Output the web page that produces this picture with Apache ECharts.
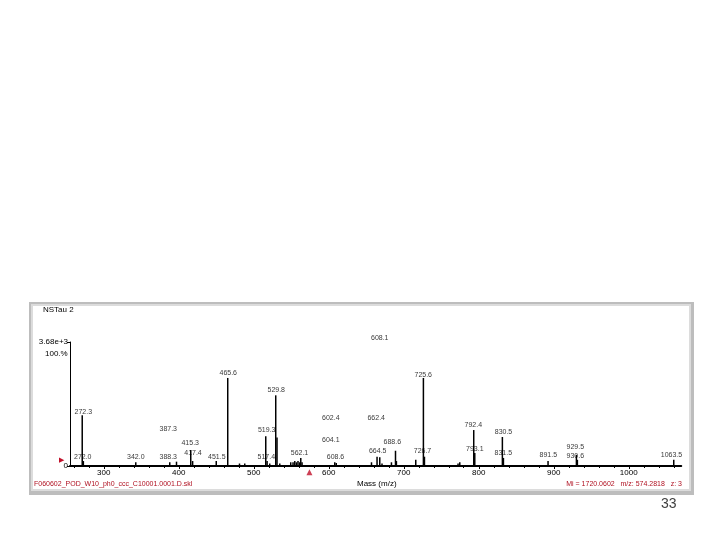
<!DOCTYPE html>
<html>
<head>
<meta charset="utf-8">
<script src="https://cdn.jsdelivr.net/npm/echarts@6/dist/echarts.min.js"></script>
<style>html,body{margin:0;padding:0;background:#fff;}#c{width:720px;height:540px;}</style>
</head>
<body>
<div id="c"></div>
<script>
// visible peak lines (m/z, relative intensity %)
const peakMz  = [271.3, 272.8, 342.7, 388, 397, 416, 418.5, 450, 465.3, 481, 488, 516, 517.8, 521.3, 529.3, 531, 534.7, 549.3, 552.4, 554.7, 556.9, 559, 561.3, 562.7, 564.4, 608, 610, 657, 664.4, 668, 671, 683.6, 689, 690.2, 716, 726.2, 727.6, 772.4, 774.7, 793.3, 794.7, 831.5, 832.9, 892.4, 930.2, 931.5, 1060];
const peakInt = [41, 4, 3, 3, 3.5, 13, 4, 4, 71, 2, 2, 24, 4, 2, 57, 23, 2, 3, 3, 4, 3, 4, 3, 6.5, 3, 3, 2.5, 3, 7.5, 7, 2, 3, 12.3, 4, 5, 71, 7.5, 2, 3, 29, 10.5, 23.4, 6.5, 4, 9, 5, 5];

// peak annotations (text, m/z position, intensity position of label centre)
const annText = ['272.3','272.0','342.0','387.3','388.3','415.3','417.4','451.5','465.6','519.3','517.4','529.8','562.1','602.4','604.1','608.6','608.1','662.4','664.5','688.6','726.7','725.6','792.4','793.1','830.5','831.5','891.5','929.5','930.6','1063.5'];
const annMz   = [272.7, 272.0, 342.7, 386, 386, 415.3, 419, 450.7, 466, 517.3, 516.7, 530, 561, 602.7, 602.7, 609, 668, 663.3, 665.3, 684.7, 725, 726, 792.7, 794.7, 833, 832.7, 892.7, 928.7, 928.7, 1057];
const annInt  = [43.8, 7.5, 7.3, 29.8, 7.0, 18.8, 10.2, 7.5, 74.8, 29.0, 7.5, 61.3, 10.2, 38.5, 21.0, 7.0, 103.5, 38.5, 12.3, 19.6, 12.3, 73.4, 33.1, 13.5, 27.7, 10.2, 8.9, 14.9, 8.1, 8.9];

// precursor marker
const precursor = [[574.28, -5]];

// axis ticks
const xTickValues = [300, 400, 500, 600, 700, 800, 900, 1000];
const xMinorTicks = [];
for (let v = 260; v <= 1060; v += 20) { if (v % 100 !== 0) xMinorTicks.push(v); }
const yTickValues = [0, 100];
const yTickLabels = {0: '0', 100: '3.68e+3'};

const FF = 'Liberation Sans, Arial, sans-serif';
const chart = echarts.init(document.getElementById('c'), null, {renderer: 'canvas'});
const txt = (text, pos, style) => Object.assign({text: text, padding: 0, textStyle: Object.assign({fontSize: 8, fontWeight: 'normal', color: '#000', fontFamily: FF}, style || {})}, pos);

chart.setOption({
  animation: false,
  backgroundColor: '#ffffff',
  graphic: [
    {type: 'rect', z: -20, shape: {x: 29, y: 302, width: 665, height: 193}, style: {fill: '#bdbdbd'}},
    {type: 'rect', z: -19, shape: {x: 31, y: 304, width: 660, height: 187}, style: {fill: '#dcdcdc'}},
    {type: 'rect', z: -18, shape: {x: 33, y: 306, width: 656, height: 183}, style: {fill: '#ffffff'}}
  ],
  title: [
    txt('NSTau 2', {left: 43, top: 306}),
    txt('100.%', {left: 45, top: 350}),
    txt('\u25B6', {left: 59, top: 457}, {color: '#c0102a', fontSize: 7}),
    txt('F060602_POD_W10_ph0_ccc_C10001.0001.D.skl', {left: 34, top: 481}, {color: '#b01020', fontSize: 7}),
    txt('Mass (m/z)', {left: 357, top: 480}),
    txt('Mi = 1720.0602   m/z: 574.2818   z: 3', {right: 38, top: 481}, {color: '#b01020', fontSize: 7}),
    txt('33', {left: 661, top: 497}, {fontSize: 14, color: '#404040'})
  ],
  grid: {left: 70, right: 38.75, top: 342, bottom: 74, containLabel: false},
  xAxis: [
    {
      type: 'value', min: 255, max: 1070, position: 'bottom',
      axisLine: {show: true, lineStyle: {color: '#000', width: 2}},
      axisTick: {show: true, customValues: xTickValues, length: 3, lineStyle: {color: '#000', width: 1}},
      axisLabel: {show: true, customValues: xTickValues, formatter: v => String(v), fontSize: 8, margin: 3, color: '#000', fontFamily: FF},
      splitLine: {show: false}
    },
    {
      type: 'value', min: 255, max: 1070, position: 'bottom',
      axisLine: {show: false},
      axisTick: {show: true, customValues: xMinorTicks, length: 2, lineStyle: {color: '#000', width: 1}},
      axisLabel: {show: false},
      splitLine: {show: false}
    }
  ],
  yAxis: {
    type: 'value', min: 0, max: 100,
    axisLine: {show: true, lineStyle: {color: '#000', width: 1}},
    axisTick: {show: true, customValues: yTickValues, length: 3, lineStyle: {color: '#000'}},
    axisLabel: {show: true, customValues: yTickValues, formatter: v => yTickLabels[v], fontSize: 8, margin: 2, color: '#000', fontFamily: FF},
    splitLine: {show: false}
  },
  series: [
    {
      type: 'bar', xAxisIndex: 0, silent: true, barWidth: 1.5,
      itemStyle: {color: '#000'},
      data: peakMz.map((m, i) => [m, peakInt[i]])
    },
    {
      type: 'scatter', xAxisIndex: 0, silent: true, clip: false, symbolSize: 1,
      itemStyle: {color: 'rgba(0,0,0,0)'},
      label: {show: true, position: 'inside', formatter: p => p.data[2], fontSize: 7, color: '#000', fontFamily: FF},
      data: annMz.map((m, i) => [m, annInt[i], annText[i]])
    },
    {
      type: 'scatter', xAxisIndex: 0, silent: true, clip: false, symbol: 'triangle', symbolSize: 6,
      itemStyle: {color: '#c0102a'},
      data: precursor
    }
  ]
});
</script>
</body>
</html>
